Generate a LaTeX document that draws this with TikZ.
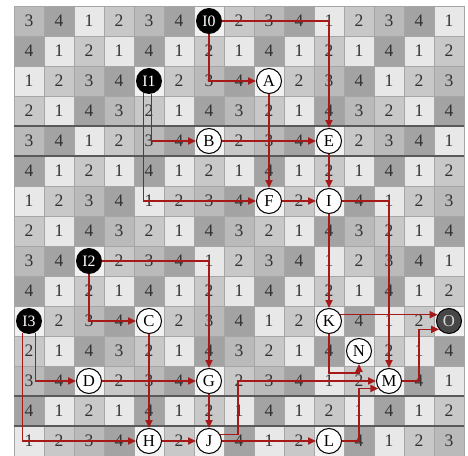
\documentclass[tikz,border=0pt]{standalone}
\usepackage{fontspec}
\setmainfont{Liberation Serif}
\usetikzlibrary{arrows.meta}

\definecolor{shade0}{HTML}{F1F1F1}
\definecolor{shade1}{HTML}{E8E8E8}
\definecolor{shade2}{HTML}{C8C8C8}
\definecolor{shade3}{HTML}{BABABA}
\definecolor{shade4}{HTML}{A3A3A3}
\definecolor{linkred}{RGB}{165,25,25}

% cells that carry a circle instead of a number
\def\holelist{,7-1,5-3,9-3,7-5,11-5,9-7,11-7,3-9,1-11,5-11,11-11,15-11,12-12,3-13,7-13,13-13,5-15,7-15,11-15,}
\makeatletter
\newcommand\checkhole[3]{%
  \edef\hole@tmp{\noexpand\in@{,#1-#2,}{\holelist}}\hole@tmp
  \ifin@\def\cellnum{}\def\cellshade{shade0}%
  \else\edef\cellnum{#3}\edef\cellshade{shade#3}\fi}
\makeatother

\begin{document}
\begin{tikzpicture}[x=0.6cm,y=0.6cm,>={Triangle[length=4.5pt,width=4pt]},
  cell/.style={font=\fontsize{10}{12}\selectfont,text=black!80},
  inp/.style={circle,fill=black,text=white,inner sep=0pt,minimum size=0.52cm,font=\fontsize{9}{10}\selectfont},
  letter/.style={circle,draw=black,line width=0.6pt,fill=white,inner sep=0pt,minimum size=0.5cm,font=\fontsize{9.5}{10}\selectfont},
  outp/.style={letter,fill=black!72,text=black!15},
  gridline/.style={draw=black!35,line width=0.4pt},
  heavyline/.style={draw=black!65,line width=1.1pt},
  link/.style={->,draw=linkred,line width=0.9pt}]
\useasboundingbox[fill=white] (-0.4667,0.2) rectangle (15.1333,-15);
% ---- number board ----
\foreach \i in {1,...,15}{\foreach \j in {1,...,15}{
  \pgfmathtruncatemacro{\idx}{4*mod(\j-1,4)+mod(\i-1,4)}
  \pgfmathtruncatemacro{\val}{{3,4,1,2,4,1,2,1,1,2,3,4,2,1,4,3}[\idx]}
  \checkhole{\i}{\j}{\val}
  \fill[\cellshade] (\i-1,-\j+1) rectangle ++(1,-1);
  \node[cell] (n\i-\j) at (\i-0.5,-\j+0.5) {\cellnum};}}
\foreach \k in {0,...,15}{
  \draw[gridline] (\k,0) -- (\k,-15);
  \draw[gridline] (0,-\k) -- (15,-\k);}
\foreach \y in {4,5,13,14} \draw[heavyline] (0,-\y) -- (15,-\y);
% ---- circles ----
\foreach \n/\c/\r in {I0/7/1,I1/5/3,I2/3/9,I3/1/11}
  \node[inp] (\n) at (\c-0.5,-\r+0.5) {\n};
\foreach \n/\c/\r in {A/9/3,B/7/5,E/11/5,F/9/7,I/11/7,C/5/11,K/11/11,N/12/12,D/3/13,G/7/13,M/13/13,H/5/15,J/7/15,L/11/15}
  \node[letter] (\n) at (\c-0.5,-\r+0.5) {\n};
\node[outp] (O) at (14.5,-10.5) {O};
% ---- paths ----
\draw[link] (I0) -| (E);
\draw[link] (I0) |- (A);
\draw[link] (I1.-80) |- (B);
\draw[link] (I1.-115) |- (F);
\draw[link] (A) -- (F);
\draw[link] (B) -- (E);
\draw[link] (E) -- (I);
\draw[link] (F) -- (I);
\draw[link] (I) -- (K);
\draw[link] (I) -| (M);
\draw[link] (I2) -| (G);
\draw[link] (I2) |- (C);
\draw[link] (I3.-120) |- (H);
\draw[link] (I3.-60) |- (D);
\draw[link] (C) -- (H);
\draw[link] (D) -- (G);
\draw[link] (G) -- (J);
\draw[link] (H) -- (J);
\draw[link] (J) -- (L);
\draw[link] (J.30) -- ++(0.6,0) |- (M);
\draw[link] (L) -- ++(1,0) |- (M.215);
\draw[link] (K) -- ++(0,-1.73) -| (N);
\draw[link] (K.29) -- (O.151);
\draw[link] (M) -- ++(1,0) |- (O.220);
\end{tikzpicture}
\end{document}
